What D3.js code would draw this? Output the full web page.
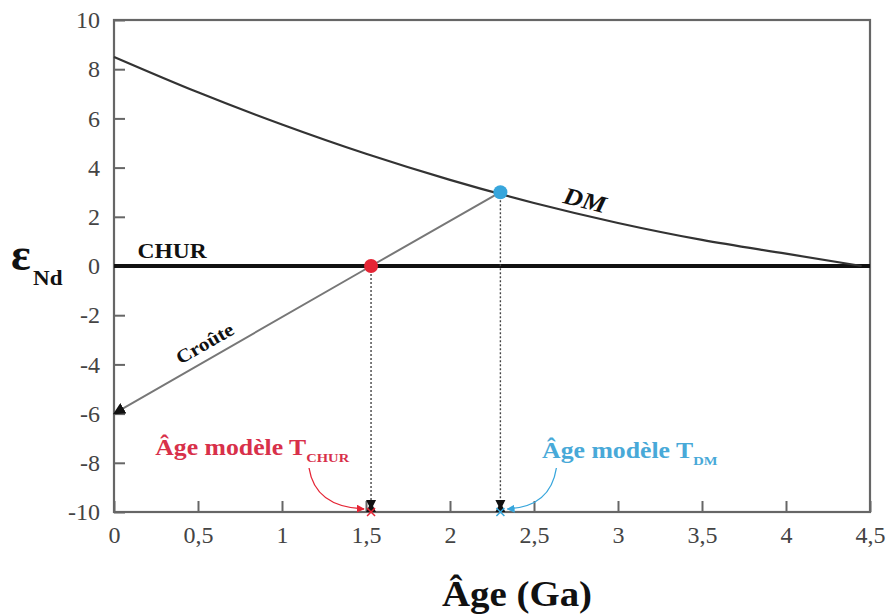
<!DOCTYPE html>
<html><head><meta charset="utf-8">
<script src="https://cdn.jsdelivr.net/npm/d3@7"></script>
<style>body{margin:0;background:#fff} svg text{font-family:"Liberation Serif","Times New Roman",serif}</style>
</head><body><svg id="c" width="889" height="614"></svg>
<script>
const ageTicks=[0,0.5,1,1.5,2,2.5,3,3.5,4,4.5];
const ageTickLabels=["0","0,5","1","1,5","2","2,5","3","3,5","4","4,5"];
const epsTicks=[-10,-8,-6,-4,-2,0,2,4,6,8,10];
const dmAge=[0,0.5,1,1.5,2,2.5,3,3.5,4,4.45];
const dmEps=[8.5,7.06,5.75,4.56,3.5,2.56,1.75,1.06,0.5,0];
const churAge=[0,4.5];
const churEps=[0,0];
const crustAge=[2.3,1.53,0];
const crustEps=[3,0,-6];
const modelAges=[1.53,2.3];
const modelEps=[0,3];
const modelNames=["CHUR","DM"];
const modelColors=["#e52535","#38a6dc"];
const labelColors=["#d8304a","#48a9d8"];

const svg=d3.select("#c");
const x=d3.scaleLinear().domain([0,4.5]).range([114,870]);
const y=d3.scaleLinear().domain([-10,10]).range([512,20]);
const SX=1.12;
const SERIF="Liberation Serif, Times New Roman, serif";

const defs=svg.append("defs");
function marker(id,color,size){
  defs.append("marker").attr("id",id).attr("viewBox","0 0 10 10").attr("refX",9).attr("refY",5)
    .attr("markerWidth",size).attr("markerHeight",size).attr("orient","auto").attr("markerUnits","userSpaceOnUse")
    .append("path").attr("d","M0,0L10,5L0,10Z").attr("fill",color);
}
marker("arrBlack","#111",12);
marker("arrRed",modelColors[0],8);
marker("arrBlue",modelColors[1],8);

// axes
const xAxis=d3.axisBottom(x).tickValues(ageTicks).tickSize(-11).tickPadding(14)
  .tickFormat((d,i)=>ageTickLabels[i]);
const yAxis=d3.axisLeft(y).tickValues(epsTicks).tickSize(-11).tickPadding(14)
  .tickFormat(d=>String(d));
const gx=svg.append("g").attr("transform",`translate(0,${y(-10)})`).call(xAxis);
const gy=svg.append("g").attr("transform",`translate(${x(0)},0)`).call(yAxis);
[gx,gy].forEach(g=>{
  g.attr("font-family",SERIF).attr("font-size",24);
  g.select(".domain").remove();
  g.selectAll("line").attr("stroke","#666").attr("stroke-width",2);
  g.selectAll("text").attr("font-size",24).attr("fill","#444").attr("font-family",SERIF);
});

// frame
svg.append("rect").attr("x",x(0)).attr("y",y(10)).attr("width",x(4.5)-x(0)).attr("height",y(-10)-y(10))
  .attr("fill","none").attr("stroke","#666").attr("stroke-width",2.2);

// CHUR line
svg.append("path").datum(churAge.map((a,i)=>[a,churEps[i]]))
  .attr("d",d3.line().x(d=>x(d[0])).y(d=>y(d[1])))
  .attr("stroke","#111").attr("stroke-width",4).attr("fill","none");

// DM curve
svg.append("path").datum(dmAge.map((a,i)=>[a,dmEps[i]]))
  .attr("d",d3.line().curve(d3.curveMonotoneX).x(d=>x(d[0])).y(d=>y(d[1])))
  .attr("stroke","#333").attr("stroke-width",2.2).attr("fill","none");

// crust line
svg.append("path").datum(crustAge.map((a,i)=>[a,crustEps[i]]))
  .attr("d",d3.line().x(d=>x(d[0])).y(d=>y(d[1])))
  .attr("stroke","#777").attr("stroke-width",2).attr("fill","none")
  .attr("marker-end","url(#arrBlack)");

// dotted drop lines + markers
modelAges.forEach((a,i)=>{
  svg.append("line").attr("x1",x(a)).attr("x2",x(a)).attr("y1",y(modelEps[i])).attr("y2",y(-10)-4)
    .attr("stroke","#444").attr("stroke-width",1.4).attr("stroke-dasharray","2,2");
  const bx=x(a), by=y(-10);
  svg.append("path").attr("d",`M${bx-5},${by-12}L${bx+5},${by-12}L${bx+2},${by-6}L${bx+5},${by}L${bx-5},${by}L${bx-2},${by-6}Z`)
    .attr("fill","#111");
  svg.append("path").attr("d",`M${bx-4},${by-4}L${bx+4},${by+4}M${bx+4},${by-4}L${bx-4},${by+4}`)
    .attr("stroke",modelColors[i]).attr("stroke-width",1.5);
});

// dots
svg.selectAll("circle.pt").data(modelAges).join("circle").attr("class","pt")
  .attr("cx",d=>x(d)).attr("cy",(d,i)=>y(modelEps[i])).attr("r",7)
  .attr("fill",(d,i)=>modelColors[i]);

// text helper
function label(px,py,str,size,opts={}){
  const g=svg.append("g").attr("transform",`translate(${px},${py}) rotate(${opts.rot||0}) scale(${opts.sx||SX},1)`);
  const t=g.append("text").attr("font-size",size).attr("font-weight","bold").attr("font-family",SERIF)
    .attr("fill",opts.fill||"#111").attr("text-anchor",opts.anchor||"start")
    .attr("font-style",opts.italic?"italic":"normal").text(str);
  return t;
}

// model age labels
const labelAge=[0.245,2.548];
const labelEps=[-7.68,-7.8];
modelAges.forEach((a,i)=>{
  const t=label(x(labelAge[i]),y(labelEps[i]),"Âge modèle T",23,{fill:labelColors[i]});
  t.append("tspan").attr("font-size",13).attr("dy",7).text(modelNames[i]);
  const ex=x(a)+(i===0?-7:7), ey=y(-10)-3;
  const sx=x(a)+(i===0?-62:56), sy=y(-10)-44;
  const cx=sx+(i===0?6:-6), cy=ey-2;
  svg.append("path").attr("d",`M${sx},${sy}Q${cx},${cy} ${ex},${ey}`)
    .attr("fill","none").attr("stroke",modelColors[i]).attr("stroke-width",1.3)
    .attr("marker-end",i===0?"url(#arrRed)":"url(#arrBlue)");
});

// other labels
label(x(0.14),y(0)-8,"CHUR",21);
label(583,208,"DM",24,{italic:true,rot:14,anchor:"middle"});
label(208,349,"Croûte",19,{rot:-30,anchor:"middle"});

// axis titles
label(517,606,"Âge (Ga)",36,{anchor:"middle",sx:1.08});
label(11,270,"ε",46,{sx:1.0});
label(33,285,"Nd",22,{sx:1.05});
</script></body></html>
